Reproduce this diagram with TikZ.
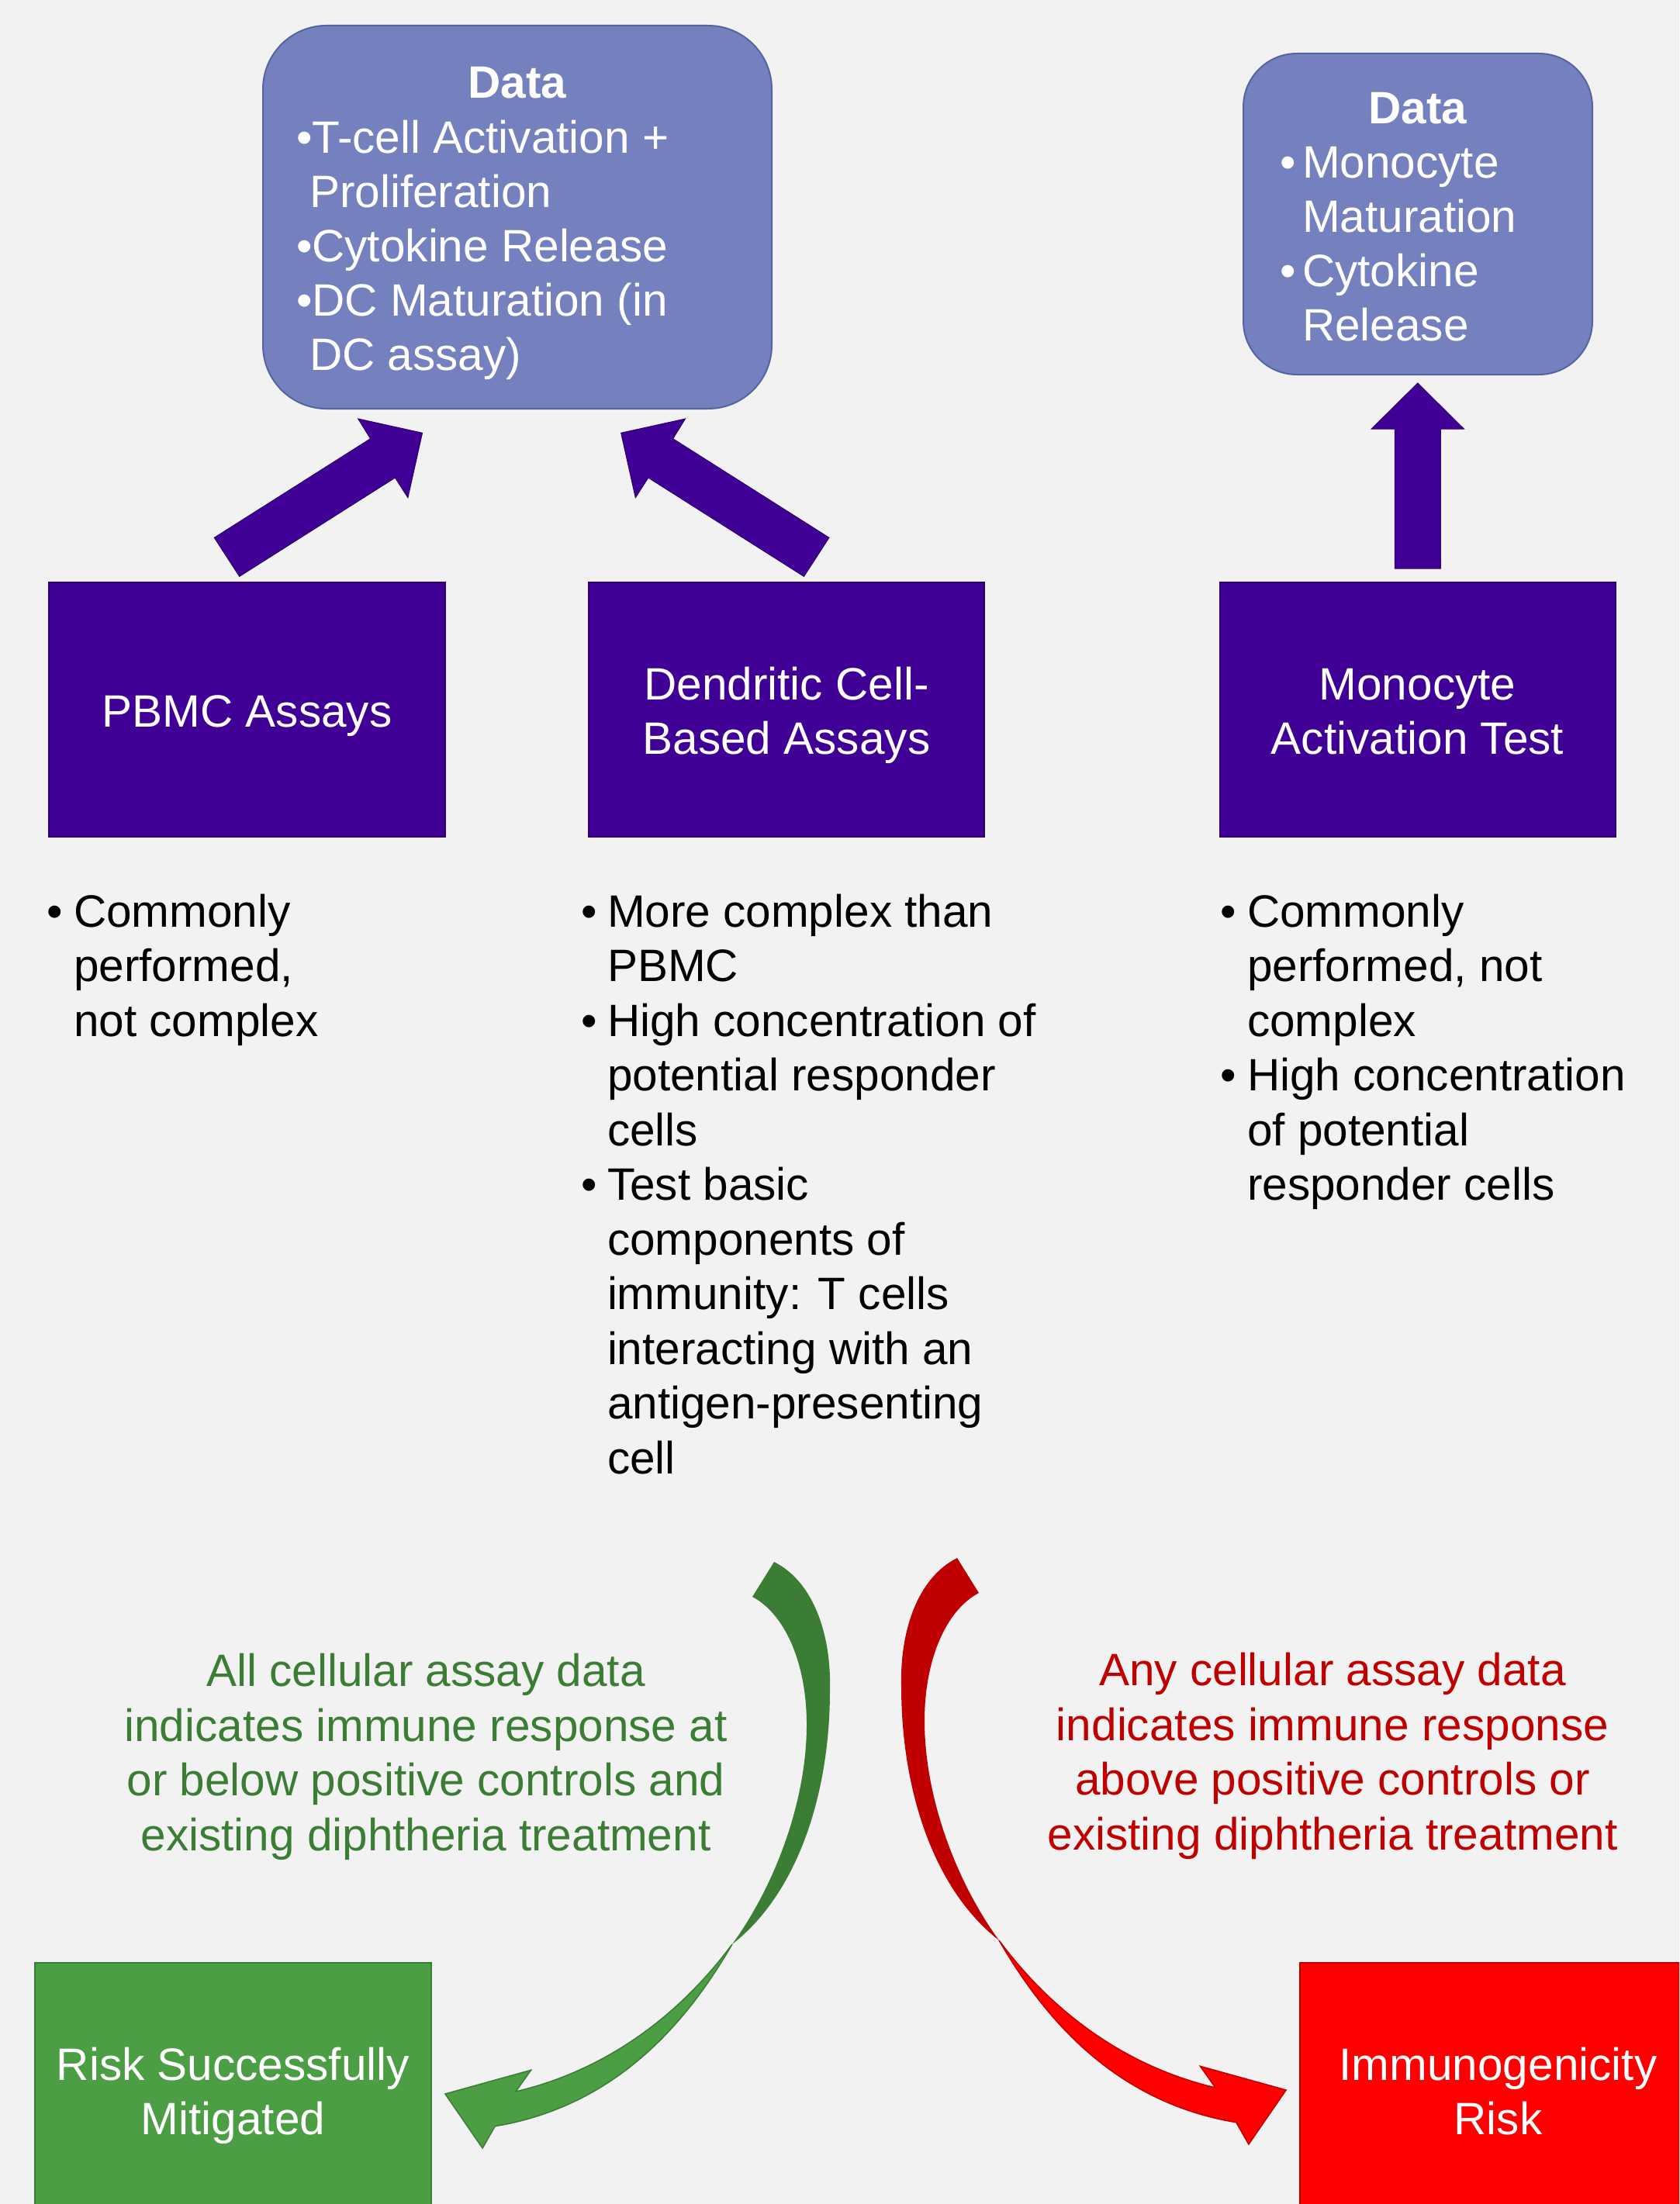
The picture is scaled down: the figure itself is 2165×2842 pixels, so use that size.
\documentclass[tikz,border=0pt]{standalone}
\usepackage{fontspec}
\setmainfont{Liberation Sans}
\definecolor{bg}{HTML}{F2F2F2}
\definecolor{purp}{HTML}{400096}
\definecolor{purpedge}{HTML}{2E006E}
\definecolor{datafill}{HTML}{7581BE}
\definecolor{dataedge}{HTML}{5664A0}
\definecolor{gfront}{HTML}{4C9E44}
\definecolor{gback}{HTML}{3B7D34}
\definecolor{rfront}{HTML}{FF0000}
\definecolor{rback}{HTML}{C00000}
\tikzset{
  txt/.style={font=\fontsize{58.5}{70.5}\selectfont, inner sep=0pt, outer sep=0pt},
  btxt/.style={font=\fontsize{58.5}{70.5}\selectfont\bfseries, inner sep=0pt, outer sep=0pt},
  ln/.style={txt, anchor=base west},
  lc/.style={txt, anchor=base},
  databox/.style={draw=dataedge, fill=datafill, line width=2pt, rounded corners=#1, inner sep=0pt},
  assaybox/.style={draw=purpedge, fill=purp, line width=2pt, inner sep=0pt, minimum width=510pt, minimum height=328pt},
  blockarrow/.style={fill=purp, draw=purpedge, line width=1pt},
}
\newcommand\mycurvarrow[2]{%
  \fill[#1] (998,2014) .. controls (1050,2040) and (1072,2110) .. (1070,2180)
     .. controls (1070,2310) and (1030,2440) .. (944,2507)
     .. controls (1000,2430) and (1041,2320) .. (1040,2220)
     .. controls (1039,2140) and (1010,2080) .. (970,2059) -- cycle;
  \filldraw[fill=#2, draw=#1, line width=1.5pt, line join=miter]
     (944,2507) .. controls (890,2580) and (800,2665) .. (665,2697)
     -- (684.6,2669.3) -- (573.9,2700) -- (622.1,2770) -- (638.2,2741.7)
     .. controls (800,2715) and (890,2600) .. (944,2507) -- cycle;
}
\begin{document}
\begin{tikzpicture}[x=1pt,y=-1pt]
\useasboundingbox (0,0) rectangle (2165,2842);
\clip (0,0) rectangle (2165,2842);
\fill[bg] (0,0) rectangle (2165,2842);

% data boxes
\node[databox=82pt, minimum width=656pt, minimum height=494pt] (data1) at (667,280) {};
\node[databox=69pt, minimum width=450pt, minimum height=414pt] (data2) at (1828,276) {};

\node[btxt, anchor=base, text=white] (d1h) at (667,127) {Data};
\node[ln, text=white] (d1a) at (382,197) {•T-cell Activation +};
\node[ln, text=white] (d1b) at (399,267) {Proliferation};
\node[ln, text=white] (d1c) at (382,337) {•Cytokine Release};
\node[ln, text=white] (d1d) at (382,407) {•DC Maturation (in};
\node[ln, text=white] (d1e) at (399,477) {DC assay)};

\node[btxt, anchor=base, text=white] (d2h) at (1828,159) {Data};
\node[ln, text=white] (d2b1) at (1650,229) {•};
\node[ln, text=white] (d2a) at (1679,229) {Monocyte};
\node[ln, text=white] (d2b) at (1679,299) {Maturation};
\node[ln, text=white] (d2b2) at (1650,369) {•};
\node[ln, text=white] (d2c) at (1679,369) {Cytokine};
\node[ln, text=white] (d2d) at (1679,439) {Release};

% assay boxes
\node[assaybox, minimum width=511pt] (pbmc) at (318.5,915) {};
\node[assaybox] (dc) at (1014,915) {};
\node[assaybox] (mat) at (1827.5,915) {};
\node[lc, text=white] (pbmct) at (318.5,937) {PBMC Assays};
\node[lc, text=white] (dct1) at (1014,902) {Dendritic Cell-};
\node[lc, text=white] (dct2) at (1014,972) {Based Assays};
\node[lc, text=white] (matt1) at (1827.5,902) {Monocyte};
\node[lc, text=white] (matt2) at (1827.5,972) {Activation Test};

% block arrows
\filldraw[blockarrow] (276.3,693.3) -- (477.6,565.7) -- (461.7,540) -- (544.5,558.3) -- (525.9,641.7) -- (509.4,616) -- (308.7,743.3) -- cycle;
\filldraw[blockarrow] (1068.9,693.3) -- (867.6,565.7) -- (883.5,540) -- (800.7,558.3) -- (819.3,641.7) -- (835.8,616) -- (1036.5,743.3) -- cycle;
\filldraw[blockarrow] (1798.3,733) -- (1798.3,553) -- (1768.3,553) -- (1827.8,494) -- (1887.3,553) -- (1857.3,553) -- (1857.3,733) -- cycle;

% bullet lists
\node[ln] (l1b) at (60,1195) {•};
\node[ln] (l1) at (95,1195) {Commonly};
\node[ln] (l2) at (95,1265.5) {performed,};
\node[ln] (l3) at (95,1336) {not complex};

\node[ln] (m1b) at (749,1195) {•};
\node[ln] (m1) at (783,1195) {More complex than};
\node[ln] (m2) at (783,1265.5) {PBMC};
\node[ln] (m3b) at (749,1336) {•};
\node[ln] (m3) at (783,1336) {High concentration of};
\node[ln] (m4) at (783,1406.5) {potential responder};
\node[ln] (m5) at (783,1477) {cells};
\node[ln] (m6b) at (749,1547.5) {•};
\node[ln] (m6) at (783,1547.5) {Test basic};
\node[ln] (m7) at (783,1618) {components of};
\node[ln] (m8) at (783,1688.5) {immunity: T cells};
\node[ln] (m9) at (783,1759) {interacting with an};
\node[ln] (m10) at (783,1829.5) {antigen-presenting};
\node[ln] (m11) at (783,1900) {cell};

\node[ln] (r1b) at (1573,1195) {•};
\node[ln] (r1) at (1608,1195) {Commonly};
\node[ln] (r2) at (1608,1265.5) {performed, not};
\node[ln] (r3) at (1608,1336) {complex};
\node[ln] (r4b) at (1573,1406.5) {•};
\node[ln] (r4) at (1608,1406.5) {High concentration};
\node[ln] (r5) at (1608,1477) {of potential};
\node[ln] (r6) at (1608,1547.5) {responder cells};

% curved arrows
\mycurvarrow{gback}{gfront}
\begin{scope}[shift={(2232,-5)}, xscale=-1]
\mycurvarrow{rback}{rfront}
\end{scope}

% condition texts
\node[lc, text=gback] (g1) at (549,2174.5) {All cellular assay data};
\node[lc, text=gback] (g2) at (549,2245) {indicates immune response at};
\node[lc, text=gback] (g3) at (549,2315.5) {or below positive controls and};
\node[lc, text=gback] (g4) at (549,2386) {existing diphtheria treatment};

\node[lc, text=rback] (rr1) at (1718,2173.5) {Any cellular assay data};
\node[lc, text=rback] (rr2) at (1718,2244) {indicates immune response};
\node[lc, text=rback] (rr3) at (1718,2314.5) {above positive controls or};
\node[lc, text=rback] (rr4) at (1718,2385) {existing diphtheria treatment};

% outcome boxes
\node[draw=gback, fill=gfront, line width=2pt, minimum width=511pt, minimum height=328pt, inner sep=0pt] (risk) at (300.5,2695) {};
\node[draw=rback, fill=rfront, line width=2pt, minimum width=511pt, minimum height=328pt, inner sep=0pt] (immuno) at (1931.5,2695) {};
\node[lc, text=white] (riskt1) at (300.5,2682) {Risk Successfully};
\node[lc, text=white] (riskt2) at (300.5,2752) {Mitigated};
\node[lc, text=white] (immt1) at (1931.5,2682) {Immunogenicity};
\node[lc, text=white] (immt2) at (1931.5,2752) {Risk};
\end{tikzpicture}
\end{document}
